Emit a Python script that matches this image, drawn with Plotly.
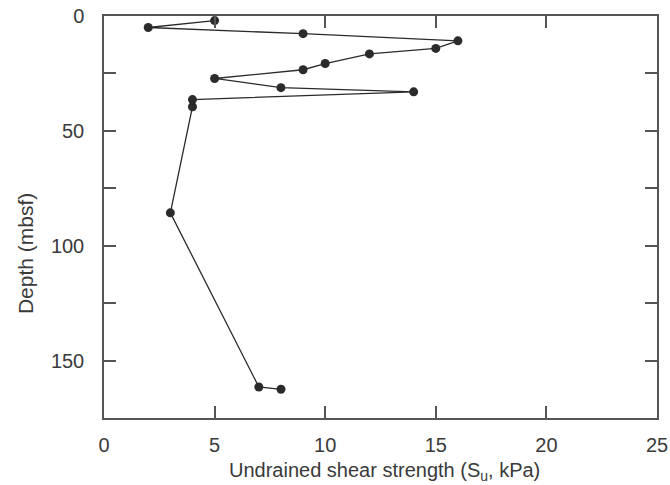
import plotly.graph_objects as go

# Data
shear_strength_kpa = [5, 2, 9, 16, 15, 12, 10, 9, 5, 8, 14, 4, 4, 3, 7, 8]
depth_mbsf = [2, 5, 7.7, 10.8, 14.1, 16.5, 20.7, 23.4, 27.2, 31.2, 33.0, 36.4, 39.5, 85.7, 161.5, 162.5]

x_ticks = [0, 5, 10, 15, 20, 25]
y_major_ticks = [0, 50, 100, 150]
y_minor_ticks = [25, 75, 125]

x_title = "Undrained shear strength (S<sub>u</sub>, kPa)"
y_title = "Depth (mbsf)"

ink = "#2b2b2b"
text_col = "#3a3a3a"
axis_col = "#555555"
font_family = "Liberation Sans, Arial, sans-serif"

fig = go.Figure()
fig.add_trace(go.Scatter(
    x=shear_strength_kpa, y=depth_mbsf,
    mode="lines+markers",
    line=dict(color=ink, width=1.3),
    marker=dict(color=ink, size=9),
    showlegend=False,
))

fig.update_layout(
    width=670, height=485,
    margin=dict(l=104, r=13, t=16, b=67),
    paper_bgcolor="white", plot_bgcolor="white",
    font=dict(family=font_family, color=text_col, size=20),
    xaxis=dict(
        range=[0, 25], tickvals=x_ticks, ticktext=[str(v) for v in x_ticks],
        ticks="inside", ticklen=12, tickwidth=1.5, tickcolor=axis_col,
        showline=True, linecolor=axis_col, linewidth=1.5, mirror="ticks",
        showgrid=False, zeroline=False, ticklabelstandoff=8,
        ticklabeloverflow="allow", automargin=False,
        tickfont=dict(family=font_family, size=20, color=text_col),
    ),
    yaxis=dict(
        range=[175, 0], tickvals=y_major_ticks, ticktext=[str(v) for v in y_major_ticks],
        ticks="inside", ticklen=12, tickwidth=1.5, tickcolor=axis_col,
        showline=True, linecolor=axis_col, linewidth=1.5, mirror="ticks",
        showgrid=False, zeroline=False, ticklabelstandoff=14, automargin=False,
        tickfont=dict(family=font_family, size=20, color=text_col),
        minor=dict(tickvals=y_minor_ticks, ticks="inside", ticklen=12,
                   tickwidth=1.5, tickcolor=axis_col, showgrid=False),
    ),
    annotations=[
        dict(
            text=y_title, textangle=-90, showarrow=False,
            xref="paper", yref="paper", x=-0.143, y=0.41,
            xanchor="center", yanchor="middle",
            font=dict(family=font_family, size=21, color=text_col),
        ),
        dict(
            text=x_title, showarrow=False,
            xref="paper", yref="paper", x=0.507, y=-0.134,
            xanchor="center", yanchor="middle",
            font=dict(family=font_family, size=20, color=text_col),
        ),
    ],
)

fig.write_html("out.html")
